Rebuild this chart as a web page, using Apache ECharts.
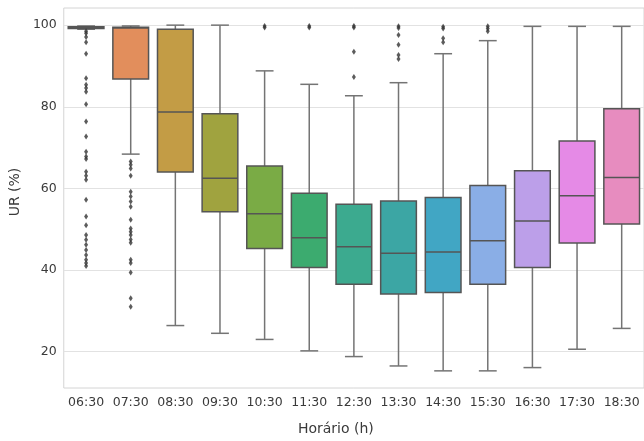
<!DOCTYPE html>
<html>
<head>
<meta charset="utf-8">
<script src="https://cdn.jsdelivr.net/npm/echarts@6/dist/echarts.min.js"></script>
<style>html,body{margin:0;padding:0;background:#fff}#c{width:644px;height:441px}</style>
</head>
<body>
<div id="c"></div>
<script>
const categories = ['06:30','07:30','08:30','09:30','10:30','11:30','12:30','13:30','14:30','15:30','16:30','17:30','18:30'];
const whiskerLow  = [99.0, 68.4, 26.4, 24.5, 23.0, 20.2, 18.8, 16.5, 15.3, 15.3, 16.1, 20.6, 25.7];
const q1          = [99.2, 86.8, 64.0, 54.3, 45.3, 40.6, 36.5, 34.1, 34.5, 36.5, 40.6, 46.6, 51.3];
const median      = [99.4, 99.3, 78.7, 62.5, 53.8, 47.9, 45.7, 44.1, 44.4, 47.2, 52.0, 58.2, 62.7];
const q3          = [99.6, 99.5, 99.0, 78.3, 65.5, 58.8, 56.1, 56.9, 57.8, 60.7, 64.3, 71.6, 79.5];
const whiskerHigh = [99.8, 99.8, 100.0, 100.0, 88.8, 85.5, 82.7, 85.9, 93.0, 96.2, 99.7, 99.7, 99.7];
const outliers = [
  [98.5, 98.0, 97.1, 95.8, 93.0, 87.0, 85.4, 84.6, 83.7, 80.6, 76.4, 72.7, 69.0, 67.8, 67.2, 64.1, 63.1, 62.1, 57.2, 53.1, 51.0, 48.6, 47.4, 46.2, 44.9, 43.7, 42.5, 41.7, 41.0],
  [66.6, 65.8, 64.9, 63.1, 59.2, 58.0, 56.8, 55.5, 52.3, 50.2, 49.4, 48.6, 47.5, 46.7, 42.5, 41.7, 39.4, 33.1, 31.0],
  [],
  [],
  [99.8, 99.4],
  [99.8, 99.4],
  [99.8, 99.4, 93.5, 87.3],
  [99.7, 99.3, 97.6, 95.2, 92.7, 91.7],
  [99.6, 99.2, 96.8, 95.8],
  [99.7, 99.2, 98.5],
  [],
  [],
  []
];
const yTicks = [20, 40, 60, 80, 100];
const boxColors = ['#e1858f','#e28e5c','#c39c45','#a0a33f','#7aab45','#3cab6f','#3caa8f','#3ca6a4','#41a6c4','#8aaee6','#bc9fe9','#e58ae6','#e78cbf'];

const boxData = categories.map((c, i) => [i, whiskerLow[i], q1[i], median[i], q3[i], whiskerHigh[i]]);
const outlierData = [];
outliers.forEach((arr, i) => arr.forEach(v => outlierData.push([i, v])));

const chart = echarts.init(document.getElementById('c'), null, {renderer: 'canvas'});
const font = 'DejaVu Sans';
const boxLine = '#555';
const whiskerLine = '#747474';
chart.setOption({
  animation: false,
  backgroundColor: '#fff',
  grid: {left: 63, top: 8, width: 585, height: 380, show: true, borderColor: '#d4d4d4', borderWidth: 1, backgroundColor: 'transparent'},
  xAxis: {
    type: 'category', data: categories, boundaryGap: true,
    axisLine: {show: false}, axisTick: {show: false}, splitLine: {show: false},
    axisLabel: {fontFamily: font, fontSize: 12.5, color: '#3a3a3a', margin: 8, interval: 0},
    name: 'Horário (h)', nameLocation: 'middle', nameGap: 34,
    nameTextStyle: {fontFamily: font, fontSize: 14, color: '#3a3a3a', padding: [0, 36, 0, 0]}
  },
  yAxis: {
    type: 'value', min: 11.1, max: 104.2,
    axisLine: {show: false},
    axisTick: {show: false, customValues: yTicks},
    axisLabel: {fontFamily: font, fontSize: 12.5, color: '#3a3a3a', margin: 7, customValues: yTicks},
    splitLine: {show: true, lineStyle: {color: '#e2e2e2', width: 1}},
    name: 'UR (%)', nameLocation: 'middle', nameGap: 39,
    nameTextStyle: {fontFamily: font, fontSize: 14, color: '#3a3a3a', padding: [0, 0, 0, 12]}
  },
  series: [
    {
      type: 'custom',
      data: boxData,
      encode: {x: 0, y: [1, 2, 3, 4, 5]},
      renderItem: function (params, api) {
        const idx = api.value(0);
        const band = api.size([1, 0])[0];
        const hw = band * 0.4, cw = band * 0.2;
        const pLow = api.coord([idx, api.value(1)]);
        const pQ1 = api.coord([idx, api.value(2)]);
        const pMed = api.coord([idx, api.value(3)]);
        const pQ3 = api.coord([idx, api.value(4)]);
        const pHigh = api.coord([idx, api.value(5)]);
        const x = pMed[0];
        const ws = {stroke: whiskerLine, lineWidth: 1.5};
        return {
          type: 'group',
          children: [
            {type: 'line', shape: {x1: x, y1: pQ1[1], x2: x, y2: pLow[1]}, style: ws},
            {type: 'line', shape: {x1: x, y1: pQ3[1], x2: x, y2: pHigh[1]}, style: ws},
            {type: 'line', shape: {x1: x - cw, y1: pLow[1], x2: x + cw, y2: pLow[1]}, style: ws},
            {type: 'line', shape: {x1: x - cw, y1: pHigh[1], x2: x + cw, y2: pHigh[1]}, style: ws},
            {type: 'rect', shape: {x: x - hw, y: pQ3[1], width: hw * 2, height: pQ1[1] - pQ3[1]},
              style: {fill: boxColors[idx], stroke: boxLine, lineWidth: 1.5}},
            {type: 'line', shape: {x1: x - hw, y1: pMed[1], x2: x + hw, y2: pMed[1]}, style: {stroke: boxLine, lineWidth: 1.5}}
          ]
        };
      },
      z: 2
    },
    {
      type: 'scatter',
      data: outlierData,
      symbol: 'path://M0,-10 L6,0 L0,10 L-6,0 Z',
      symbolSize: [4, 6],
      itemStyle: {color: '#333'},
      z: 3
    }
  ]
});
</script>
</body>
</html>
